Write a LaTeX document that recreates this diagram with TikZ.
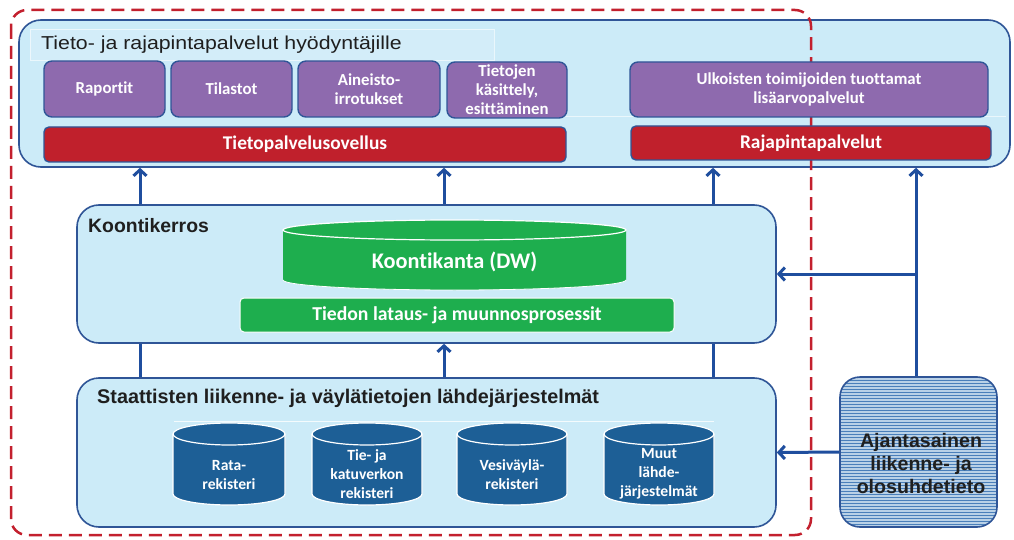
\documentclass[tikz,border=0pt]{standalone}
\usepackage{fontspec}
\setmainfont{Carlito}[Ligatures={NoCommon}]
\newfontfamily\arialf{Liberation Sans}
\newfontfamily\titlef[FakeStretch=1.14]{Liberation Sans}
\usetikzlibrary{arrows.meta,patterns}

\definecolor{lightbg}{HTML}{CCEBF8}
\definecolor{bordblue}{HTML}{2F5597}
\definecolor{purp}{HTML}{8E6AAE}
\definecolor{redb}{HTML}{C0202C}
\definecolor{greenc}{HTML}{1EAE4E}
\definecolor{cylblue}{HTML}{1D5F96}
\definecolor{arrowblue}{HTML}{1F4E9E}
\definecolor{dashred}{HTML}{C3202E}
\definecolor{ajanfill}{HTML}{B9D1E7}
\definecolor{ajanline}{HTML}{4A7FBA}

\tikzset{
  layer/.style={draw=bordblue, line width=1.6pt, fill=lightbg, rounded corners=22pt, inner sep=0pt},
  svc/.style={draw=bordblue, line width=1.4pt, fill=purp, rounded corners=8pt, text=white,
              align=center, inner sep=0pt, font=\bfseries\fontsize{16.8}{19}\selectfont},
  bar/.style={draw=bordblue, line width=1.4pt, fill=redb, rounded corners=5pt, text=white,
              inner sep=0pt, font=\bfseries\fontsize{19.4}{22}\selectfont},
  gbar/.style={draw=white, line width=1pt, fill=greenc, rounded corners=4pt, text=white,
              inner sep=0pt, font=\bfseries\fontsize{19.7}{22}\selectfont},
  head/.style={inner sep=0pt, anchor=base west, text=black!88},
  cyltext/.style={text=white, align=center, inner sep=0pt, font=\bfseries\fontsize{15.6}{19}\selectfont},
  flow/.style={draw=arrowblue, line width=3pt},
  arr/.style={-{Straight Barb[length=6pt,width=13pt]}},
  reddash/.style={draw=dashred, line width=2.5pt, dash pattern=on 13pt off 7pt, rounded corners=16pt},
}

\newcommand\dbcyl[9]{%
  \path[fill=#6] (#1,{#3+#5}) -- (#1,{#4-#5})
     arc[start angle=180,end angle=0,x radius={(#2-#1)/2},y radius=#5]
     -- (#2,{#3+#5})
     arc[start angle=0,end angle=-180,x radius={(#2-#1)/2},y radius=#5] -- cycle;
  \node[cyltext] (#7) at ({(#1+#2)/2},#9) {#8};
  \path[draw=white, line width=1.2pt] (#1,{#3+#5}) -- (#1,{#4-#5})
     arc[start angle=180,end angle=0,x radius={(#2-#1)/2},y radius=#5]
     -- (#2,{#3+#5});
  \draw[white, line width=1.2pt] ({(#1+#2)/2},{#3+#5}) ellipse[x radius={(#2-#1)/2}, y radius=#5];
}

\begin{document}
\begin{tikzpicture}[x=1pt,y=-1pt]
\useasboundingbox (0,0) rectangle (1014,540);
\fill[white] (0,0) rectangle (1014,540);

% ---------- top layer ----------
\node[layer, minimum width=991pt, minimum height=147pt] (top) at (514.5,93.5) {};
\draw[white, draw opacity=0.6, line width=0.6pt, fill=white, fill opacity=0.15] (30,29) rectangle (494,60);
\draw[white, draw opacity=0.6, line width=0.6pt] (494,116) -- (1006,116);
\node[head, font=\titlef\fontsize{18.7}{22}\selectfont] (ttl) at (41,50)
  {Tieto- ja rajapintapalvelut hyödyntäjille};

% red dashed frame
\draw[reddash] (11,10) rectangle (811,535);

\node[svc, minimum width=121pt, minimum height=56pt] (rap) at (104.5,89) {Raportit};
\node[svc, minimum width=121pt, minimum height=56pt] (til) at (231.5,89) {Tilastot};
\node[svc, minimum width=142pt, minimum height=56pt] (ain) at (369,89) {Aineisto-\\irrotukset};
\node[svc, minimum width=120pt, minimum height=56pt] (tie) at (507,90) {Tietojen\\käsittely,\\esittäminen};
\node[svc, minimum width=358pt, minimum height=55pt] (ulk) at (809,89.5) {Ulkoisten toimijoiden tuottamat\\lisäarvopalvelut};
\node[bar, minimum width=522pt, minimum height=35pt] (tps) at (305,144.5) {Tietopalvelusovellus};
\node[bar, minimum width=360pt, minimum height=34pt] (raj) at (811,143) {Rajapintapalvelut};

% ---------- middle layer ----------
\node[layer, minimum width=699pt, minimum height=138pt] (mid) at (426.5,274) {};
\node[head, font=\arialf\bfseries\fontsize{19.4}{22}\selectfont] (midt) at (88,233) {Koontikerros};
\path[fill=greenc] (283,230) -- (283,280)
   arc[start angle=180,end angle=0,x radius=171.5,y radius=10] -- (626,230)
   arc[start angle=0,end angle=-180,x radius=171.5,y radius=10] -- cycle;
\draw[white, line width=1.2pt] (454.5,230) ellipse[x radius=171.5, y radius=10];
\draw[white, line width=0.8pt] (283,280) arc[start angle=180,end angle=0,x radius=171.5,y radius=10];
\node[text=white, inner sep=0pt, font=\bfseries\fontsize{22.3}{26}\selectfont] (ktk) at (454.5,262) {Koontikanta (DW)};
\node[gbar, minimum width=434pt, minimum height=34pt] (lat) at (457,315) {Tiedon lataus- ja muunnosprosessit};

% ---------- bottom layer ----------
\node[layer, minimum width=699pt, minimum height=149pt] (bot) at (426.5,452.5) {};
\node[head, font=\arialf\bfseries\fontsize{19.8}{22}\selectfont] (bott) at (97,403.5)
  {Staattisten liikenne- ja väylätietojen lähdejärjestelmät};
\draw[white, draw opacity=0.8, line width=0.6pt] (174,421) -- (714,421);

\dbcyl{173}{285}{423}{505}{11}{cylblue}{rata}{Rata-\\rekisteri}{474.5}
\dbcyl{312}{422}{423}{505}{11}{cylblue}{tiekat}{Tie- ja\\katuverkon\\rekisteri}{474}
\dbcyl{457}{567}{423}{505}{11}{cylblue}{vesi}{Vesiväylä-\\rekisteri}{474.5}
\dbcyl{604}{714}{423}{505}{11}{cylblue}{muut}{Muut\\lähde-\\järjestelmät}{474}

% ---------- real-time source ----------
\node[draw=bordblue, line width=1.6pt, rounded corners=20pt, minimum width=157pt, minimum height=150pt,
      preaction={fill=ajanfill}, pattern=horizontal lines, pattern color=ajanline] (ajan) at (918.5,452) {};
\node[align=center, inner sep=0pt, text=black!88, font=\arialf\bfseries\fontsize{19.6}{23}\selectfont]
  (ajant) at (921,463.5) {Ajantasainen\\liikenne- ja\\olosuhdetieto};

% ---------- connectors ----------
\coordinate (xa) at (140,0);
\coordinate (xb) at (444,0);
\coordinate (xc) at (713,0);
\coordinate (xd) at (916,0);
\draw[flow, arr] (xa |- mid.north) -- (xa |- top.south);
\draw[flow, arr] (xb |- mid.north) -- (xb |- top.south);
\draw[flow, arr] (xc |- mid.north) -- (xc |- top.south);
\draw[flow] (xa |- bot.north) -- (xa |- mid.south);
\draw[flow, arr] (xb |- bot.north) -- (xb |- mid.south);
\draw[flow] (xc |- bot.north) -- (xc |- mid.south);
\draw[flow, arr] (xd |- ajan.north) -- (xd |- top.south);
\draw[flow, arr] (xd |- mid.east) -- (mid.east);
\draw[flow, arr] (ajan.west) -- (bot.east);
\end{tikzpicture}
\end{document}
